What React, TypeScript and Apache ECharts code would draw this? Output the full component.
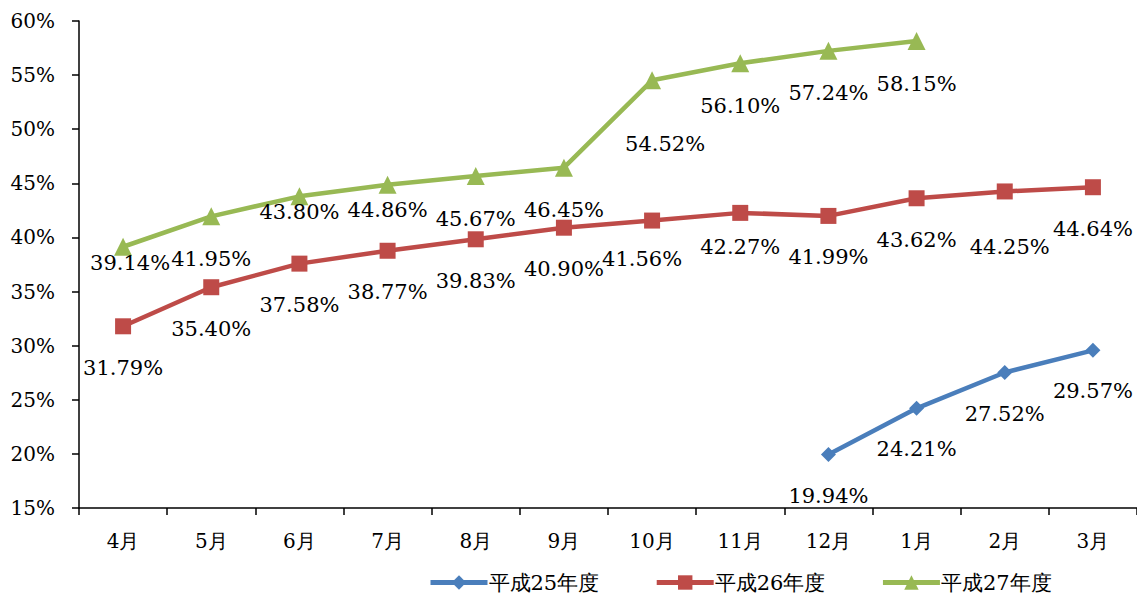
import React, { useEffect, useRef } from "react";
import * as echarts from "echarts";

const categories = ["4月", "5月", "6月", "7月", "8月", "9月", "10月", "11月", "12月", "1月", "2月", "3月"];
const seriesNames = ["平成25年度", "平成26年度", "平成27年度"];
const h25 = [null, null, null, null, null, null, null, null, 19.94, 24.21, 27.52, 29.57];
const h26 = [31.79, 35.4, 37.58, 38.77, 39.83, 40.9, 41.56, 42.27, 41.99, 43.62, 44.25, 44.64];
const h27 = [39.14, 41.95, 43.8, 44.86, 45.67, 46.45, 54.52, 56.1, 57.24, 58.15, null, null];
const yTicks = { min: 15, max: 60, interval: 5 };

// label nudges (style only), [dx, dy] per point index
const labelNudge26: Record<number, [number, number]> = { 6: [-10, -3], 7: [0, -7], 10: [5, 14] };
const labelNudge27: Record<number, [number, number]> = { 0: [7, -26], 2: [0, -27], 3: [0, -17], 6: [13, 21] };

const FONT = "DejaVu Serif";

function buildData(values: (number | null)[], nudge: Record<number, [number, number]>) {
  return values.map((v, i) => {
    if (v === null) return null;
    const n = nudge[i];
    if (!n) return v;
    return { value: v, label: { offset: n } };
  });
}

export default function App() {
  const ref = useRef<HTMLDivElement>(null);
  useEffect(() => {
    if (!ref.current) return;
    const chart = echarts.init(ref.current, undefined, { renderer: "svg" });
    const labelCommon = {
      show: true,
      position: "bottom",
      distance: 23,
      color: "#000",
      fontFamily: FONT,
      fontSize: 21,
      formatter: (p: any) => (p.value == null ? "" : Number(p.value).toFixed(2) + "%"),
    };
    const colors = ["#4a7ebb", "#be4b48", "#98b954"];
    chart.setOption({
      animation: false,
      color: colors,
      grid: { left: 79, right: -4, top: 21, bottom: 86, containLabel: false },
      legend: {
        left: 423,
        top: 567,
        itemWidth: 57,
        itemHeight: 18,
        itemGap: 55,
        lineStyle: { width: 5 },
        textStyle: { fontFamily: FONT, fontSize: 21, color: "#000", padding: [0, 0, 0, -4] },
        data: seriesNames,
      },
      xAxis: {
        type: "category",
        data: categories,
        boundaryGap: true,
        axisLine: { lineStyle: { color: "#000", width: 1.5 } },
        axisTick: { show: true, length: 7, lineStyle: { color: "#000", width: 1.5 } },
        axisLabel: { color: "#000", fontFamily: FONT, fontSize: 20, margin: 23 },
        splitLine: { show: false },
      },
      yAxis: {
        type: "value",
        min: yTicks.min,
        max: yTicks.max,
        interval: yTicks.interval,
        axisLine: { show: true, lineStyle: { color: "#000", width: 1.5 } },
        axisTick: { show: true, inside: false, length: 7, lineStyle: { color: "#000", width: 1.5 } },
        axisLabel: { color: "#000", fontFamily: FONT, fontSize: 20, margin: 24, formatter: "{value}%" },
        splitLine: { show: false },
      },
      series: [
        {
          name: seriesNames[0],
          type: "line",
          data: h25,
          symbol: "diamond",
          symbolSize: 15,
          lineStyle: { width: 4.5, color: colors[0] },
          itemStyle: { color: colors[0] },
          label: labelCommon,
        },
        {
          name: seriesNames[1],
          type: "line",
          data: buildData(h26, labelNudge26),
          symbol: "rect",
          symbolSize: 16,
          lineStyle: { width: 4.5, color: colors[1] },
          itemStyle: { color: colors[1] },
          label: labelCommon,
        },
        {
          name: seriesNames[2],
          type: "line",
          data: buildData(h27, labelNudge27),
          symbol: "triangle",
          symbolSize: 18,
          lineStyle: { width: 4.5, color: colors[2] },
          itemStyle: { color: colors[2] },
          label: labelCommon,
        },
      ],
    });
    return () => chart.dispose();
  }, []);
  return (
    <div
      ref={ref}
      style={{ position: "absolute", left: 0, top: 0, width: 1137, height: 594, background: "#fff" }}
    />
  );
}
